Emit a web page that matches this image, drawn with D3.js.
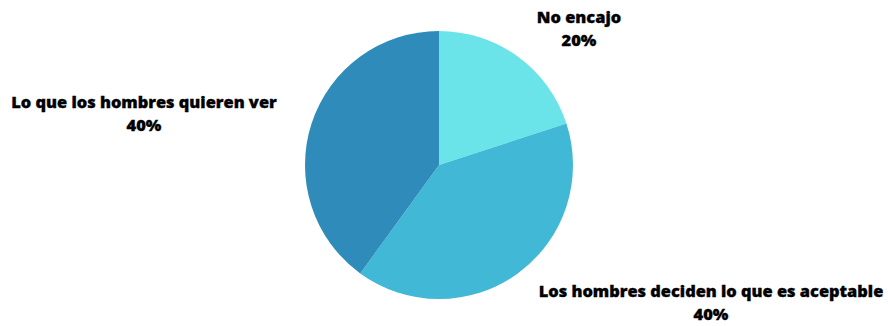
<!DOCTYPE html>
<html>
<head>
<meta charset="utf-8">
<script src="https://cdn.jsdelivr.net/npm/d3@7"></script>
<style>
  html, body { margin: 0; padding: 0; background: #ffffff; }
  svg { display: block; }
  .lbl { font-family: "Open Sans", "Noto Sans", sans-serif; font-weight: 800; font-size: 16.4px; fill: #000; stroke: #000; stroke-width: 0.35px; }
</style>
</head>
<body>
<svg id="chart" width="888" height="326"></svg>
<script>
// Categories and shares (percent)
const categories = ["No encajo", "Los hombres deciden lo que es aceptable", "Lo que los hombres quieren ver"];
const values = [20, 40, 40];
const colors = ["#6ae4e8", "#41b8d5", "#2e8bba"];
// Label anchor positions (centre x, first baseline y)
const labelPos = [[579, 23], [711, 297], [144, 108]];

const svg = d3.select("#chart");
const cx = 439, cy = 165, r = 134;

const pie = d3.pie().sort(null).value(d => d)(values);
const arc = d3.arc().innerRadius(0).outerRadius(r);

const g = svg.append("g").attr("transform", `translate(${cx},${cy})`);
g.selectAll("path")
  .data(pie)
  .join("path")
  .attr("d", arc)
  .attr("fill", (d, i) => colors[i]);

const labels = svg.selectAll("text.lbl")
  .data(categories)
  .join("text")
  .attr("class", "lbl")
  .attr("text-anchor", "middle")
  .attr("x", (d, i) => labelPos[i][0])
  .attr("y", (d, i) => labelPos[i][1]);
labels.append("tspan").text(d => d);
labels.append("tspan")
  .attr("x", (d, i) => labelPos[i][0])
  .attr("dy", 23)
  .text((d, i) => values[i] + "%");
</script>
</body>
</html>
